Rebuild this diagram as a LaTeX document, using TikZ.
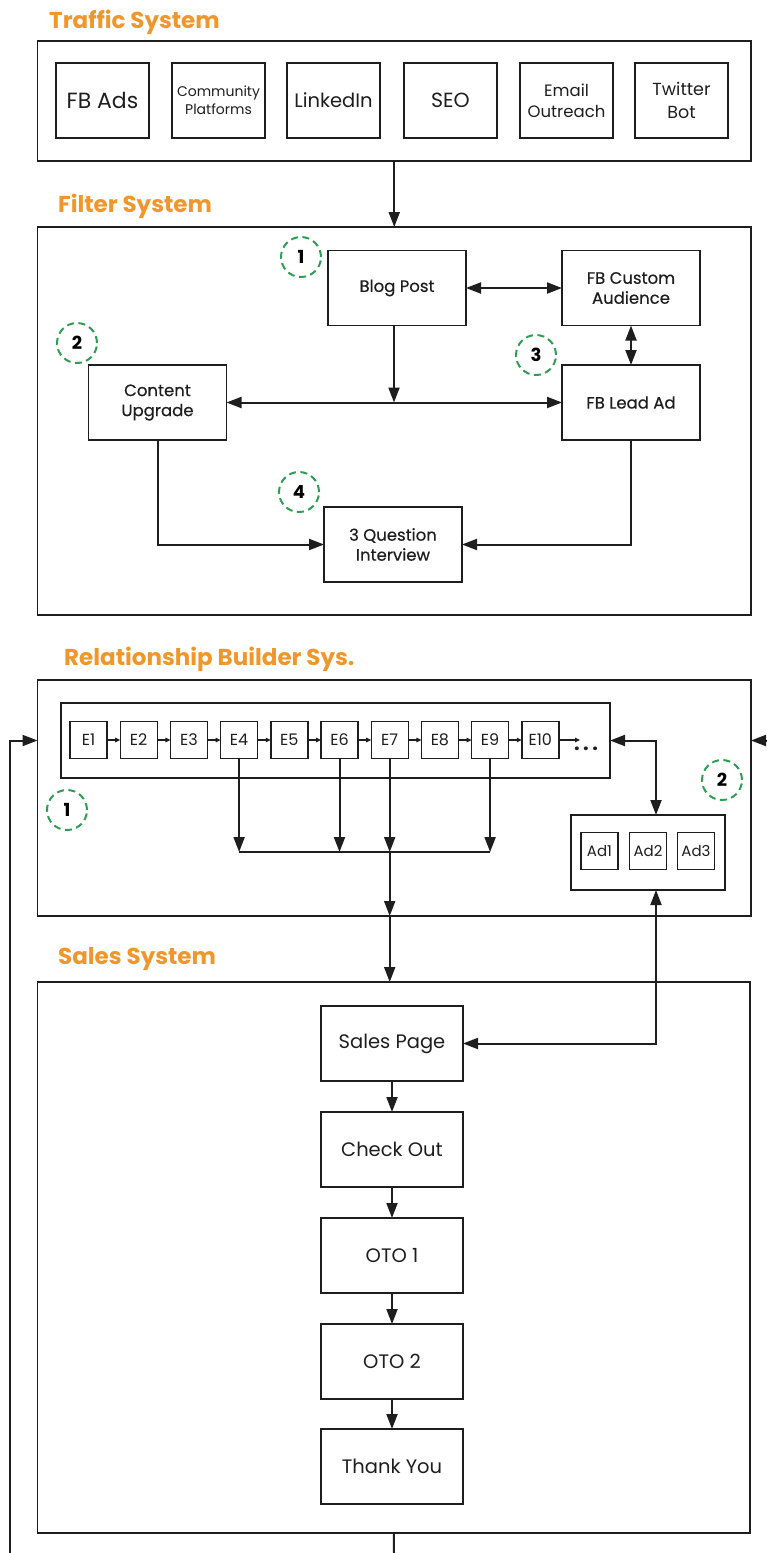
\documentclass[tikz,border=0pt]{standalone}
\usepackage{fontspec}
\setmainfont{Poppins}
\newfontfamily\medfont[FakeBold=0.4]{Poppins}
\usetikzlibrary{arrows.meta}
\definecolor{ttlc}{HTML}{F0962B}
\definecolor{grn}{HTML}{2E9E55}
\definecolor{ink}{HTML}{1E1E1E}
\begin{document}
\begin{tikzpicture}[x=1pt,y=-1pt,
  box/.style={draw=ink, line width=1.7pt, inner sep=0pt, outer sep=0pt, align=center, text=ink},
  conn/.style={draw=ink, line width=2pt, -{Triangle[length=15pt,width=11pt]}},
  bconn/.style={draw=ink, line width=2pt, {Triangle[length=15pt,width=11pt]}-{Triangle[length=15pt,width=11pt]}},
  plain/.style={draw=ink, line width=2pt},
  tiny/.style={draw=ink, line width=1.2pt, -{Triangle[length=5pt,width=4.5pt]}},
  ttl/.style={anchor=base west, text=ttlc, font=\bfseries\fontsize{23}{26}\selectfont, inner sep=0pt},
  num/.style={draw=grn, dash pattern=on 7pt off 4.5pt, line width=2pt, circle, minimum size=40pt, inner sep=0pt, text=black, font=\bfseries\fontsize{18}{20}\selectfont},
  tbox/.style={box, minimum width=93pt, minimum height=75pt},
  fbox/.style={box, minimum width=138pt, minimum height=75pt, font=\medfont\fontsize{16.5}{20}\selectfont},
  sbox/.style={box, minimum width=142pt, minimum height=75pt, font=\fontsize{19.5}{22}\selectfont},
  ebox/.style={box, line width=1.4pt, minimum width=37pt, minimum height=37pt, font=\fontsize{16}{18}\selectfont},
]
\useasboundingbox (0,0) rectangle (767,1553);

% ---------- Traffic System ----------
\node[ttl] (t1) at (49,28) {Traffic System};
\node[box, minimum width=713.5pt, minimum height=120pt] (T) at (394.25,101) {};
\node[tbox, font=\fontsize{22}{24}\selectfont] (fb) at (102.5,100.5) {FB Ads};
\node[tbox, font=\fontsize{14}{18}\selectfont] (cp) at (218.5,100.5) {Community\\Platforms};
\node[tbox, font=\fontsize{19.5}{22}\selectfont] (li) at (333.5,100.5) {LinkedIn};
\node[tbox, font=\fontsize{20.5}{22}\selectfont] (seo) at (450.5,100.5) {SEO};
\node[tbox, font=\fontsize{16.5}{21}\selectfont] (em) at (566.5,100.5) {Email\\Outreach};
\node[tbox, font=\fontsize{17.5}{23}\selectfont] (tw) at (681.5,100.5) {Twitter\\Bot};

% ---------- Filter System ----------
\node[ttl] (t2) at (58,212) {Filter System};
\node[box, minimum width=713.5pt, minimum height=388pt] (F) at (394.25,421) {};
\node[fbox] (bp) at (397,288) {Blog Post};
\node[fbox] (ca) at (631,288) {FB Custom\\Audience};
\node[fbox] (cu) at (157.5,402.5) {Content\\Upgrade};
\node[fbox] (la) at (631,402.5) {FB Lead Ad};
\node[fbox] (qi) at (393,544.5) {3 Question\\Interview};
\node[num] (n1) at (301,257) {1};
\node[num] (n2) at (77,343) {2};
\node[num] (n3) at (536,355) {3};
\node[num] (n4) at (299,492) {4};

\draw[conn] (T.south) -- (F.north);
\draw[bconn] (bp.east) -- (ca.west);
\draw[bconn] (ca.south) -- (la.north);
\draw[bconn] (cu.east) -- (la.west);
\coordinate (bpx) at (394,326);
\draw[conn] (bpx) -- (bpx |- cu.east);
\draw[conn] (cu.south) |- (qi.west);
\draw[conn] (la.south) |- (qi.east);

% ---------- Relationship Builder ----------
\node[ttl] (t3) at (64,665) {Relationship Builder Sys.};
\node[box, minimum width=713.5pt, minimum height=236pt] (R) at (394.25,798) {};
\node[box, minimum width=549pt, minimum height=75pt] (ec) at (335.5,740.5) {};
\foreach \i in {1,...,10}
  \node[ebox] (e\i) at ({88.5+50.2*(\i-1)},740) {E\i};
\foreach \i [count=\j from 2] in {1,...,9}
  \draw[tiny] (e\i.east) -- (e\j.west);
\coordinate (ed) at (580,740);
\draw[tiny] (e10.east) -- (ed);
\node[inner sep=0pt, text=ink, font=\bfseries\fontsize{20}{20}\selectfont] (dots) at (586,749) {.\hspace{3.5pt}.\hspace{3.5pt}.};
\node[num] (r1) at (67,810) {1};
\node[num] (r2) at (722,780) {2};

\coordinate (hy) at (0,852);
\draw[conn] (e4.south) -- (e4 |- hy);
\draw[conn] (e6.south) -- (e6 |- hy);
\draw[conn] (e7.south) -- (e7 |- hy);
\draw[conn] (e9.south) -- (e9 |- hy);
\draw[plain] (e4 |- hy) -- (e9 |- hy);
\draw[conn] (e7 |- hy) -- (e7 |- R.south);

\node[box, minimum width=154pt, minimum height=75pt] (ab) at (648,852.5) {};
\node[ebox, font=\fontsize{15}{18}\selectfont] (a1) at (599.5,851) {Ad1};
\node[ebox, font=\fontsize{15}{18}\selectfont] (a2) at (648,851) {Ad2};
\node[ebox, font=\fontsize{15}{18}\selectfont] (a3) at (696,851) {Ad3};
\coordinate (ka) at (656,740.5);
\draw[bconn] (ec.east) -- (ka) -- (ka |- ab.north);

% loops at the sides
\coordinate (lb) at (10,1553);
\coordinate (lt) at (10,740.5);
\draw[conn] (lb) -- (lt) -- (lt -| R.west);
\coordinate (rr) at (767,740.5);
\draw[conn] (rr) -- (rr -| R.east);

% ---------- Sales System ----------
\node[ttl] (t4) at (58,964) {Sales System};
\node[box, minimum width=712.5pt, minimum height=551pt] (S) at (393.75,1257.5) {};
\draw[conn] (e7 |- R.south) -- (e7 |- S.north);
\node[sbox] (sp) at (392,1043.5) {Sales Page};
\node[sbox] (co) at (392,1149.5) {Check Out};
\node[sbox] (o1) at (392,1255.5) {OTO 1};
\node[sbox] (o2) at (392,1361.5) {OTO 2};
\node[sbox] (ty) at (392,1466.5) {Thank You};
\draw[conn] (sp.south) -- (co.north);
\draw[conn] (co.south) -- (o1.north);
\draw[conn] (o1.south) -- (o2.north);
\draw[conn] (o2.south) -- (ty.north);
\draw[bconn] (ka |- ab.south) |- (sp.east);
\coordinate (bb) at (394,1553);
\draw[plain] (S.south) -- (bb);
\end{tikzpicture}
\end{document}
